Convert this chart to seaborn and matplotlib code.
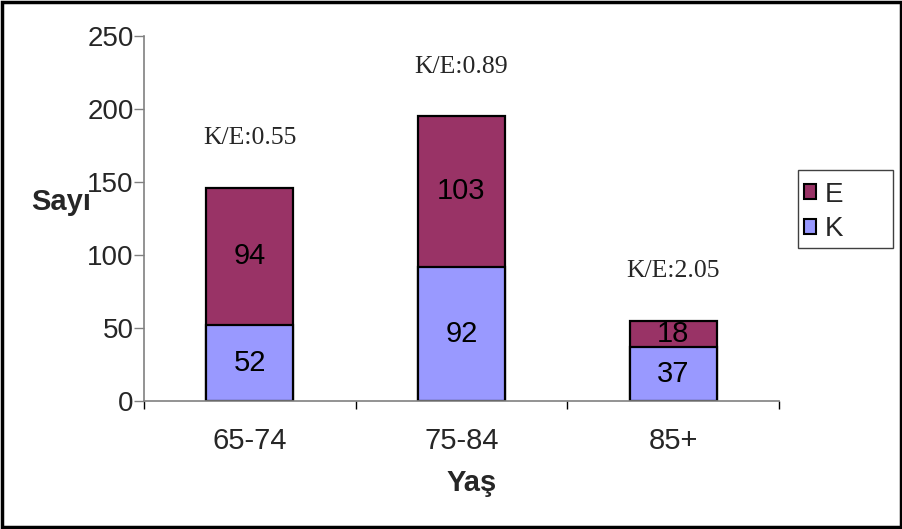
import matplotlib
matplotlib.use("Agg")
import matplotlib.pyplot as plt
from matplotlib.patches import Rectangle
import seaborn as sns
import pandas as pd
import numpy as np

sns.set_style("white")
plt.rcParams["font.family"] = ["Liberation Sans", "DejaVu Sans"]

age_groups = ["65-74", "75-84", "85+"]
women_k = [52, 92, 37]
men_e = [94, 103, 18]
ratio_labels = ["K/E:0.55", "K/E:0.89", "K/E:2.05"]

col_e = "#993366"
col_k = "#9999FF"

df = pd.DataFrame({"Yaş": age_groups, "K": women_k, "E": men_e})
df["Toplam"] = df["K"] + df["E"]

fig = plt.figure(figsize=(9.03, 5.29), dpi=100)
ax = fig.add_axes([144 / 903, 1 - 401 / 529, 635 / 903, 365 / 529])

# stacked bars: totals in E colour, K drawn over them from zero
sns.barplot(data=df, x="Yaş", y="Toplam", color=col_e, saturation=1,
            width=0.41, edgecolor="black", linewidth=1.6, ax=ax)
sns.barplot(data=df, x="Yaş", y="K", color=col_k, saturation=1,
            width=0.41, edgecolor="black", linewidth=1.6, ax=ax)

for i, (k, e) in enumerate(zip(df["K"], df["E"])):
    ax.text(i, k / 2, f"{k}", ha="center", va="center", fontsize=21, color="black")
    ax.text(i, k + e / 2, f"{e}", ha="center", va="center", fontsize=21, color="black")
    ax.text(i, k + e + 34, ratio_labels[i], ha="center", va="center",
            fontsize=18.5, family=["Liberation Serif", "DejaVu Serif"])

ax.set_xlim(-0.5, 2.5)
ax.set_ylim(0, 250)
ax.set_yticks(np.arange(0, 251, 50))
ax.tick_params(axis="y", labelsize=20, direction="out", length=7, width=1,
               color="#808080", left=True, pad=0.5)
ax.set_xticks(range(3))
ax.set_xticklabels(age_groups)
ax.tick_params(axis="x", which="major", labelsize=21, length=0, pad=19)
ax.set_xticks([-0.5, 0.5, 1.5, 2.5], minor=True)
ax.tick_params(axis="x", which="minor", direction="out", length=5.5, width=1,
               color="black", bottom=True)

for s in ["top", "right"]:
    ax.spines[s].set_visible(False)
for s in ["left", "bottom"]:
    ax.spines[s].set_color("#808080")
    ax.spines[s].set_linewidth(1.2)
ax.set_xlabel("")
ax.set_ylabel("")

fig.text(61 / 903, 1 - 210 / 529, "Sayı", ha="center", va="baseline",
         fontsize=21, fontweight="bold")
fig.text(472 / 903, 1 - 491 / 529, "Yaş", ha="center", va="baseline",
         fontsize=21, fontweight="bold")

# legend entries without their own frame; the box is drawn separately
handles = [Rectangle((0, 0), 1, 1, facecolor=col_e, edgecolor="black", linewidth=1.5),
           Rectangle((0, 0), 1, 1, facecolor=col_k, edgecolor="black", linewidth=1.5)]
leg = fig.legend(handles, ["E", "K"], loc="center left",
                 bbox_to_anchor=(804 / 903, 1 - 212 / 529),
                 fontsize=20, frameon=False,
                 handlelength=0.45, handleheight=0.45, handletextpad=0.3,
                 borderpad=0, labelspacing=0.3, borderaxespad=0)
fig.patches.append(Rectangle((798 / 903, 1 - 248 / 529), 95 / 903, 78 / 529,
                             transform=fig.transFigure, fill=False,
                             edgecolor="#404040", linewidth=1.0))

# outer frame around the whole figure
fig.patches.append(Rectangle((0.002, 0.003), 0.996, 0.994, transform=fig.transFigure,
                             fill=False, edgecolor="black", linewidth=2.5))

fig.savefig("out.png", dpi=100)
